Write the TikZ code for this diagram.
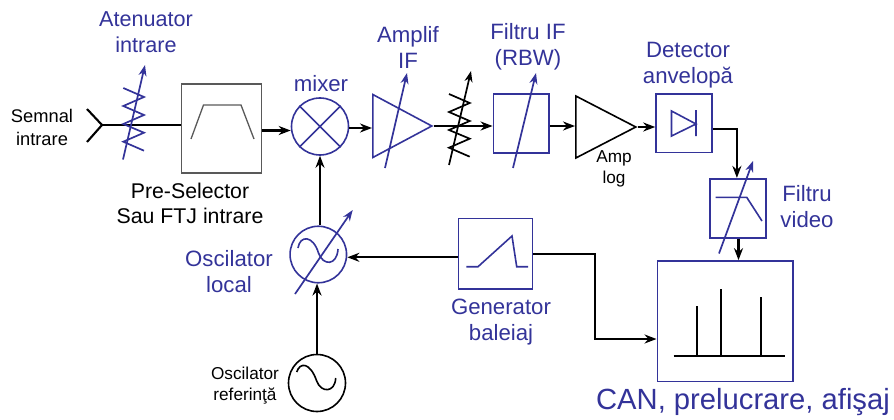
\documentclass[tikz,border=0pt]{standalone}
\usepackage{fontspec}
\setmainfont{Liberation Sans}
\usetikzlibrary{arrows.meta,shapes.geometric}
\definecolor{schblue}{RGB}{51,51,153}
\tikzset{
  sig/.style={line width=2.1pt,-{Stealth[length=12pt,width=9pt]}},
  wire/.style={line width=2.1pt},
  tune/.style={schblue,line width=1.7pt,-{Stealth[length=11pt,width=8pt]}},
  part/.style={draw=schblue,line width=1.6pt,inner sep=0pt},
  bluelbl/.style={text=schblue,align=center,font=\fontsize{22.2}{26}\selectfont},
  blacklbl/.style={align=center,font=\fontsize{21.3}{25}\selectfont},
  smalllbl/.style={align=center,font=\fontsize{17.2}{21}\selectfont},
}
\begin{document}
\begin{tikzpicture}[x=1pt,y=-1pt]
\useasboundingbox (0,0) rectangle (894,420);
% blocks
\node[draw=black!65,line width=1.3pt,minimum width=80pt,minimum height=89pt,inner sep=0pt] (presel) at (221.7,128.5) {};
\node[part,circle,minimum size=57pt] (mixer) at (320,126.5) {};
\node[part,isosceles triangle,isosceles triangle apex angle=55,isosceles triangle stretches,minimum width=63pt,minimum height=59pt,anchor=lower side] (ampif) at (372,126) {};
\node[part,minimum width=55.7pt,minimum height=59pt] (filtif) at (521.2,123.5) {};
\node[draw,line width=1.6pt,inner sep=0pt,isosceles triangle,isosceles triangle stretches,minimum width=62pt,minimum height=60pt,anchor=lower side] (amplog) at (575,127) {};
\node[part,minimum width=56pt,minimum height=58.7pt] (detect) at (684,123.3) {};
\node[part,minimum width=56.3pt,minimum height=59pt] (filtvid) at (737.9,208.2) {};
\node[part,minimum width=135.4pt,minimum height=120.7pt] (display) at (725,321.3) {};
\node[part,minimum width=74pt,minimum height=70.4pt] (sweep) at (495.3,253.5) {};
\node[part,circle,minimum size=56.5pt] (osclocal) at (318.3,254.5) {};
\node[draw,line width=1.6pt,inner sep=0pt,circle,minimum size=57pt] (oscref) at (317,383) {};
\coordinate (antenna) at (102,125);
% connectors
\draw[wire] (87,109) -- (antenna) -- (87,142);
\draw[wire] (antenna) -- (antenna -| presel.west);
\draw[sig] ([yshift=-2pt]presel.east) -- ([yshift=-4pt]mixer.west);
\draw[sig] ([yshift=-1.5pt]mixer.east) -- ([yshift=-2pt]ampif.lower side);
\draw[sig] (ampif.apex) -- (filtif.west |- ampif.apex);
\draw[sig] ([yshift=-2.5pt]filtif.east) -- (amplog.lower side |- 0,126);
\draw[sig] (amplog.apex) -- (detect.west |- amplog.apex);
\draw[sig] ([yshift=-6pt]detect.east) -| ([xshift=-1pt]filtvid.north);
\draw[sig] ([xshift=.6pt]filtvid.south) -- ([xshift=.6pt]filtvid.south |- display.north);
\draw[sig] (osclocal.north -| mixer.south) -- (mixer.south);
\draw[sig] (sweep.west |- 0,257.3) -- (osclocal.east |- 0,257.3);
\draw[sig] (oscref.north) -- (osclocal.south -| oscref.north);
\draw[sig] (sweep.east |- 0,253.7) -- (594.7,253.7) |- (display.west |- 0,339);
% pre-selector shape
\draw[draw=black!65,line width=1.3pt] (191,139) -- (203.5,105) -- (241,105) -- (254,139);
% mixer cross
\draw[schblue,line width=1.6pt] (mixer.45) -- (mixer.225) (mixer.135) -- (mixer.315);
% variable symbols
\foreach \xo/\yo/\col in {0/0/schblue,325.7/6/black}
  \draw[\col,line width=1.7pt,shift={(\xo pt,-\yo pt)}] (123.3,88) -- (144,97) -- (123.3,106) -- (144,115) -- (123.3,124) -- (144,132.7) -- (123.3,141.7) -- (144,150.7);
\draw[tune] (123,159.5) -- (145,65);
\draw[tune,black] (449,165) -- (471,71);
\draw[tune] (385,168) -- (407,73);
\draw[tune] (513,168) -- (536,73);
\draw[tune] (719,253.5) -- (753,161);
\draw[tune] (295,294) -- (352.7,210);
% diode
\draw[schblue,line width=1.6pt] (671.5,111) -- (696,124) -- (671.5,136) -- cycle (696,110) -- (696,136);
% video filter shape
\draw[schblue,line width=1.6pt] (715.7,197.3) -- (746.7,197.3) -- (762,221);
% ramp
\draw[schblue,line width=1.6pt] (466.3,266.7) -- (478,266.7) -- (512,236) -- (516.7,266.7) -- (528,266.7);
% sine waves
\draw[schblue,line width=1.6pt] (298,248) .. controls (300,235) and (313,235) .. (318.5,253) .. controls (323,266) and (337,266) .. (338,249);
\draw[line width=1.6pt] (296.7,372) .. controls (300,362) and (310,362) .. (316.7,381) .. controls (321,393) and (335,393) .. (335.7,378);
% display spectrum
\draw[line width=2.1pt] (673.5,356) -- (784.5,356) (697,356) -- (697,305.7) (721,356) -- (721,289) (761,356) -- (761,297);
% labels
\node[align=center,font=\fontsize{18.3}{23}\selectfont] (lblin) at (42,127.5) {Semnal\\intrare};
\node[bluelbl,font=\fontsize{21.6}{26}\selectfont] (lblatt) at (146,32) {Atenuator\\intrare};
\node[blacklbl] (lblpre) at (190,203.5) {Pre-Selector\\Sau FTJ intrare};
\node[bluelbl] (lblmix) at (321,84) {mixer};
\node[bluelbl] (lblamp) at (408,47) {Amplif\\IF};
\node[bluelbl] (lblfif) at (528,47) {Filtru IF\\(RBW)};
\node[smalllbl] (lbllog) at (614,168.5) {Amp\\log};
\node[bluelbl] (lbldet) at (688,65) {Detector\\anvelopă};
\node[bluelbl] (lblvid) at (807,206.5) {Filtru\\video};
\node[bluelbl] (lblloc) at (229,272) {Oscilator\\local};
\node[bluelbl] (lblgen) at (501,322.5) {Generator\\baleiaj};
\node[smalllbl] (lblref) at (245,386) {Oscilator\\referinţă};
\node[text=schblue,font=\fontsize{29.2}{34}\selectfont] (lblcan) at (743,402) {CAN, prelucrare, afişaj};
\end{tikzpicture}
\end{document}
